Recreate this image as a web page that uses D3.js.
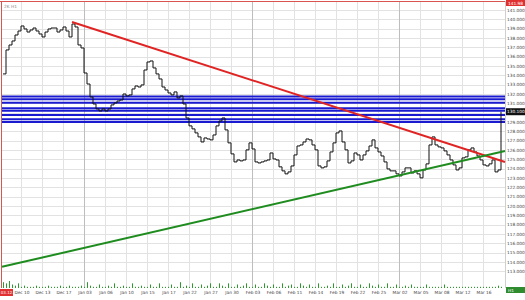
<!DOCTYPE html>
<html>
<head>
<meta charset="utf-8">
<script src="https://cdn.jsdelivr.net/npm/d3@7"></script>
<style>
  body { margin: 0; background: #fff; }
  svg { display: block; font-family: "DejaVu Sans", sans-serif; }
</style>
</head>
<body>
<svg id="chart" width="525" height="300"></svg>
<script>
// hourly closes
const closes = [
  134.15, 136.72, 137.25, 137.68, 138.32, 138.75, 139.29, 138.97, 138.64, 138.86,
  139.07, 138.75, 138.43, 138.11, 138.64, 138.97, 139.07, 139.07, 138.64, 138.86,
  139.18, 138.75, 138.11, 139.50, 139.18, 137.25, 136.93, 134.25, 133.07, 131.68,
  130.93, 130.40, 130.18, 130.40, 130.18, 130.40, 130.83, 131.04, 131.25, 131.36,
  132.00, 131.79, 131.90, 132.54, 132.86, 132.75, 132.97, 134.57, 135.43, 135.54,
  134.79, 134.15, 133.61, 132.75, 132.43, 132.11, 131.90, 132.22, 131.58, 131.79,
  130.93, 129.43, 128.58, 128.26, 127.83, 127.40, 126.86, 127.29, 127.18, 127.08,
  127.61, 128.58, 129.11, 129.43, 128.15, 126.76, 125.58, 124.72, 124.93, 124.83,
  124.93, 126.01, 126.76, 126.11, 124.72, 124.61, 124.72, 124.83, 124.93, 125.68,
  125.04, 124.93, 124.19, 123.76, 123.44, 123.65, 124.29, 125.47, 126.43, 126.54,
  126.86, 127.18, 127.08, 126.54, 126.01, 124.29, 124.08, 124.19, 124.83, 125.79,
  126.76, 127.83, 128.04, 126.86, 126.01, 124.61, 124.83, 125.68, 125.47, 124.93,
  125.47, 125.90, 126.43, 127.08, 126.22, 125.79, 125.36, 124.72, 123.97, 123.76,
  123.76, 123.44, 123.22, 123.65, 124.08, 124.08, 123.54, 123.76, 123.44, 123.01,
  123.86, 124.51, 126.54, 127.40, 126.54, 126.33, 126.22, 125.90, 125.47, 124.93,
  124.40, 123.86, 124.08, 125.15, 125.26, 126.01, 126.22, 125.79, 125.36, 124.93,
  124.40, 124.29, 124.51, 124.93, 123.65, 123.86, 130.10
];

const volumes = [
  5, 4, 6, 3, 2, 4, 1, 2, 1, 1,
  1, 2, 1, 1, 1, 2, 1, 1, 1, 2,
  1, 1, 2, 1, 1, 1, 2, 1, 5, 2,
  1, 1, 3, 1, 1, 2, 1, 4, 1, 1,
  2, 1, 1, 4, 1, 1, 2, 1, 1, 3,
  1, 1, 4, 1, 1, 1, 3, 1, 1, 5,
  1, 2, 1, 4, 1, 1, 3, 1, 2, 4,
  1, 1, 4, 2, 1, 4, 1, 1, 3, 1,
  2, 4, 1, 1, 3, 1, 1, 4, 2, 1,
  3, 1, 1, 4, 1, 2, 3, 1, 1, 4,
  2, 1, 3, 1, 1, 4, 1, 1, 2, 1,
  4, 1, 1, 3, 1, 2, 4, 1, 1, 3,
  1, 1, 4, 2, 1, 3, 1, 1, 4, 1,
  1, 3, 1, 1, 2, 1, 3, 1, 1, 1,
  1, 3, 1, 1, 1, 1, 1, 3, 1, 1,
  1, 1, 1, 1, 1, 1, 1, 1, 1, 1,
  1, 1, 1, 1, 1, 2, 1
];

const dateLabels = [
  "Dec 10", "Dec 13", "Dec 17", "Jan 03", "Jan 06", "Jan 10", "Jan 15", "Jan 17",
  "Jan 22", "Jan 27", "Jan 30", "Feb 03", "Feb 06", "Feb 11", "Feb 14", "Feb 19",
  "Feb 22", "Feb 25", "Mar 02", "Mar 05", "Mar 08", "Mar 12", "Mar 16"
];
const monthStarts = ["Jan 03", "Feb 03", "Mar 02"];

const priceTicks = d3.range(113, 142);

// horizontal levels (blue) and the two trend lines, as [bar index, price]
const levels = [131.72, 131.43, 131.07, 130.47, 130.21, 129.75, 129.29, 128.99];
const resistance = [[23, 139.72], [167.33, 124.72]];
const support = [[-0.33, 113.48], [167.33, 125.90]];

const svg = d3.select("#chart");
const W = 525, H = 300;
const plotLeft = 2, plotRight = 505, plotTop = 1, plotBottom = 288;

const x = d3.scaleLinear().domain([0, closes.length - 1]).range([3, 501]);
const y = d3.scaleLinear().domain([113, 141]).range([271.3, 10]);
const yVol = d3.scaleLinear().domain([0, 6]).range([288, 281]);

svg.append("rect").attr("width", W).attr("height", H).attr("fill", "#fff");

// grid
const tickIdx = dateLabels.map((d, i) => 6 + 7 * i);
svg.append("g")
  .selectAll("line")
  .data(priceTicks)
  .join("line")
  .attr("x1", plotLeft).attr("x2", plotRight)
  .attr("y1", d => Math.round(y(d)) + 0.5).attr("y2", d => Math.round(y(d)) + 0.5)
  .attr("stroke", "#e2e2e2");

svg.append("g")
  .selectAll("line")
  .data(dateLabels)
  .join("line")
  .attr("x1", (d, i) => Math.round(x(tickIdx[i])) + 0.5)
  .attr("x2", (d, i) => Math.round(x(tickIdx[i])) + 0.5)
  .attr("y1", plotTop).attr("y2", plotBottom)
  .attr("stroke", d => monthStarts.includes(d) ? "#bdbdbd" : "#e2e2e2");

// frame
svg.append("line").attr("x1", 0).attr("x2", plotRight).attr("y1", 1.5).attr("y2", 1.5)
  .attr("stroke", "#d9534f");
svg.append("line").attr("x1", 1.5).attr("x2", 1.5).attr("y1", 1).attr("y2", plotBottom)
  .attr("stroke", "#d9534f");
svg.append("line").attr("x1", plotRight + 0.5).attr("x2", plotRight + 0.5).attr("y1", 1).attr("y2", plotBottom)
  .attr("stroke", "#cfcfcf");

// volume
svg.append("g")
  .selectAll("line")
  .data(volumes)
  .join("line")
  .attr("x1", (d, i) => Math.round(x(i)) + 0.5)
  .attr("x2", (d, i) => Math.round(x(i)) + 0.5)
  .attr("y1", yVol(0))
  .attr("y2", d => yVol(d))
  .attr("stroke", "#2e9a2e");

// blue levels
svg.append("g")
  .selectAll("line")
  .data(levels)
  .join("line")
  .attr("x1", plotLeft).attr("x2", plotRight)
  .attr("y1", d => y(d)).attr("y2", d => y(d))
  .attr("stroke", "#1a1ad0")
  .attr("stroke-width", 2);

// price
const line = d3.line()
  .curve(d3.curveStepAfter)
  .x((d, i) => x(i))
  .y(d => y(d));
svg.append("path")
  .attr("fill", "none")
  .attr("stroke", "#111")
  .attr("stroke-width", 1)
  .attr("d", line(closes));

// trend lines
function AddTrend(pts, color) {
  svg.append("line")
    .attr("x1", x(pts[0][0])).attr("y1", y(pts[0][1]))
    .attr("x2", x(pts[1][0])).attr("y2", y(pts[1][1]))
    .attr("stroke", color)
    .attr("stroke-width", 2);
}
AddTrend(resistance, "#e02424");
AddTrend(support, "#1f8c1f");

// right axis labels
svg.append("g")
  .selectAll("text")
  .data(priceTicks)
  .join("text")
  .attr("x", 507)
  .attr("y", d => y(d) + 1.6)
  .attr("font-size", 4.3)
  .attr("fill", "#444")
  .text(d => d3.format(".3f")(d));

// date labels
svg.append("g")
  .selectAll("text")
  .data(dateLabels)
  .join("text")
  .attr("x", (d, i) => x(tickIdx[i]) + 1)
  .attr("y", 294)
  .attr("text-anchor", "middle")
  .attr("font-size", 4.3)
  .attr("fill", "#444")
  .text(d => d);

// boxes
const last = closes[closes.length - 1];
svg.append("rect").attr("x", 506).attr("y", y(last) - 3.5).attr("width", 19).attr("height", 7).attr("fill", "#111");
svg.append("text").attr("x", 507).attr("y", y(last) + 1.6).attr("font-size", 4.3).attr("fill", "#fff")
  .text(d3.format(".3f")(last));

svg.append("rect").attr("x", 506).attr("y", 0).attr("width", 19).attr("height", 6).attr("fill", "#e03030");
svg.append("text").attr("x", 508).attr("y", 4.6).attr("font-size", 4.3).attr("fill", "#fff").text("141.98");

svg.append("rect").attr("x", 0).attr("y", 289).attr("width", 13).attr("height", 7).attr("fill", "#e03030");
svg.append("text").attr("x", 0.8).attr("y", 294).attr("font-size", 4).attr("fill", "#fff").text("03.12.");

svg.append("rect").attr("x", 506).attr("y", 287).attr("width", 19).attr("height", 6).attr("fill", "#2e8b2e");
svg.append("text").attr("x", 508).attr("y", 292).attr("font-size", 4.3).attr("fill", "#fff").text("H1");

svg.append("text").attr("x", 4).attr("y", 8).attr("font-size", 4.3).attr("fill", "#888").text("2K H1");
</script>
</body>
</html>
